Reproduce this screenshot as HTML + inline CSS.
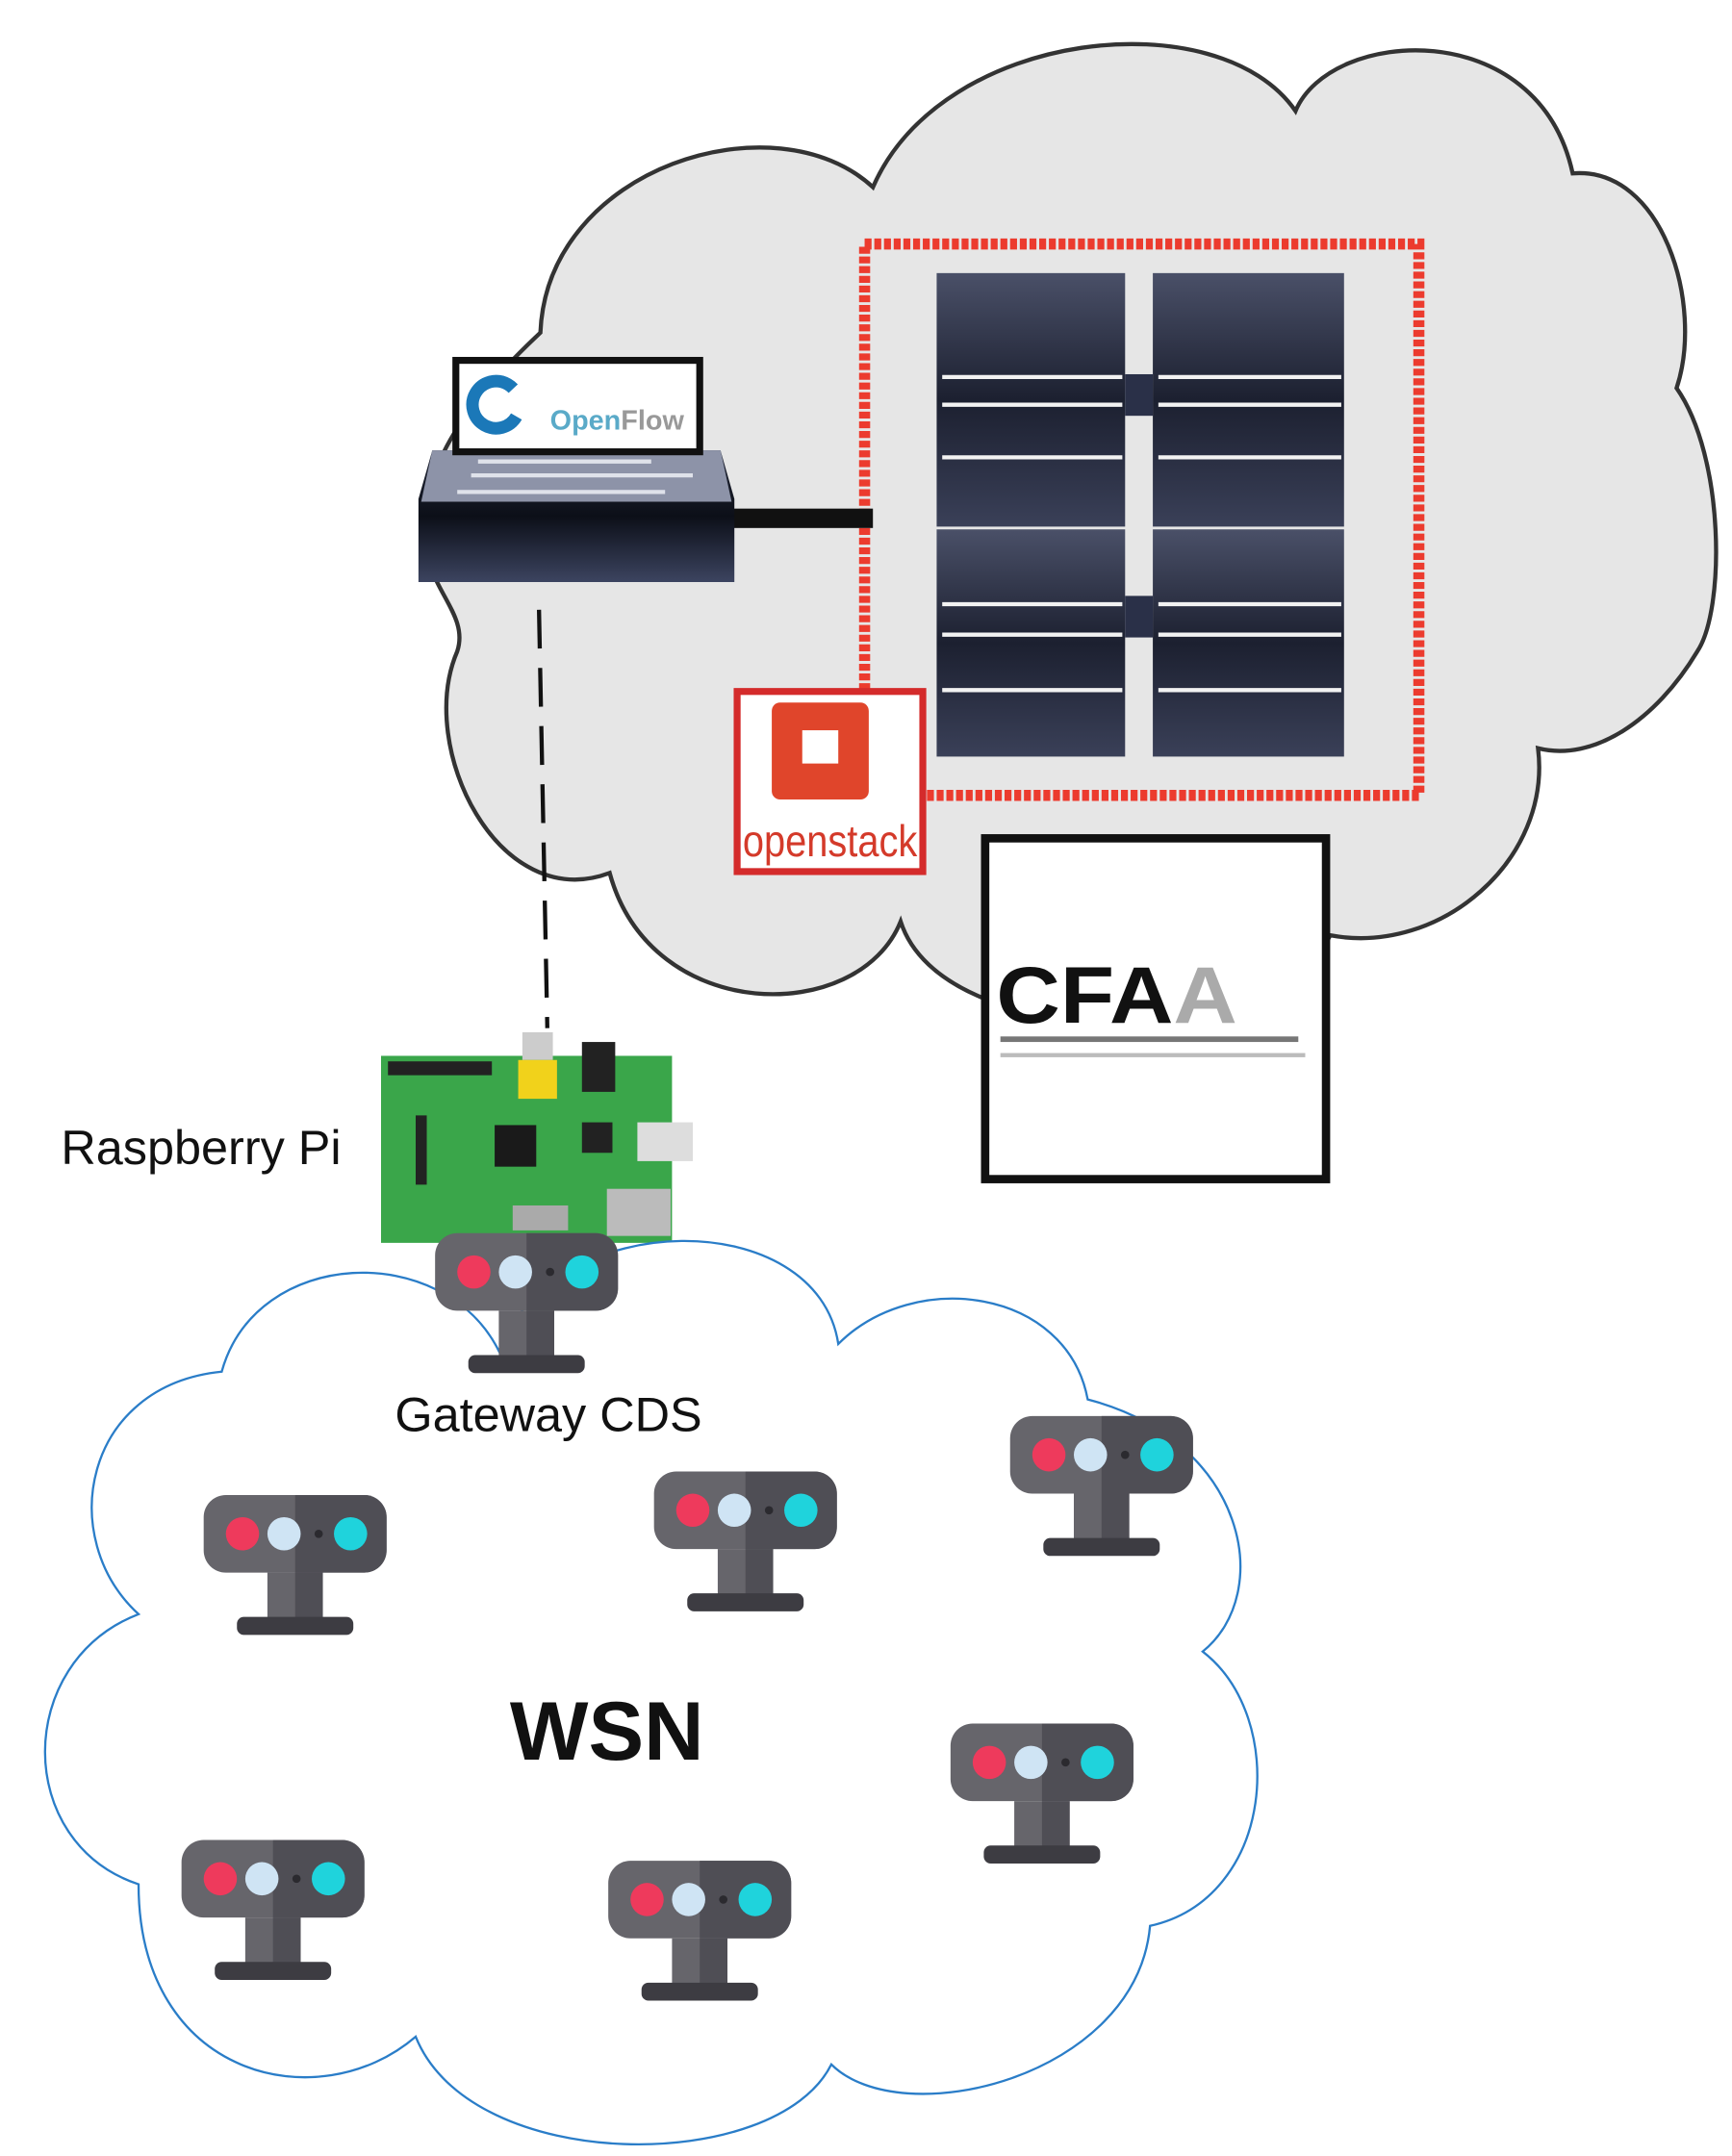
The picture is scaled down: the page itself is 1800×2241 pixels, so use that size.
<!DOCTYPE html>
<html><head><meta charset="utf-8"><style>
html,body{margin:0;padding:0;background:#fff}
svg{display:block}
</style></head><body>
<svg width="1800" height="2241" viewBox="0 0 1250 1556" xmlns="http://www.w3.org/2000/svg" font-family="Liberation Sans, DejaVu Sans, sans-serif">
<defs>
<linearGradient id="srv" x1="0" y1="0" x2="0" y2="1">
<stop offset="0" stop-color="#4a5068"/><stop offset="0.5" stop-color="#1c2030"/><stop offset="1" stop-color="#3a4058"/>
</linearGradient>
<linearGradient id="sw" x1="0" y1="0" x2="0" y2="1">
<stop offset="0" stop-color="#262b3c"/><stop offset="0.5" stop-color="#0c0f18"/><stop offset="1" stop-color="#3c4460"/>
</linearGradient>
<g id="sensor">
<rect x="-66" y="-28" width="132" height="56" rx="16" fill="#66656b"/>
<path d="M0 -28 H50 A16 16 0 0 1 66 -12 V12 A16 16 0 0 1 50 28 H0 Z" fill="#4f4e55"/>
<rect x="-20" y="28" width="40" height="34" fill="#66656b"/>
<rect x="0" y="28" width="20" height="34" fill="#4f4e55"/>
<rect x="-42" y="60" width="84" height="13" rx="5" fill="#3d3c42"/>
<circle cx="-38" cy="0" r="12" fill="#ee3a5c"/>
<circle cx="-8" cy="0" r="12" fill="#cfe4f4"/>
<circle cx="17" cy="0" r="3" fill="#2b2a2f"/>
<circle cx="40" cy="0" r="12" fill="#1fd3dc"/>
</g>
</defs>

<path d="M390 240 C395 120 560 70 630 135 C680 20 880 0 935 80 C960 20 1110 10 1135 125 C1200 120 1230 220 1210 280 C1245 330 1245 440 1225 470 C1195 520 1150 550 1110 540 C1120 620 1040 690 960 675 C920 760 680 760 650 665 C620 740 470 740 440 630 C360 660 300 540 330 470 C340 440 300 420 310 380 C300 320 380 250 390 240 Z" fill="#e6e6e6" stroke="#333" stroke-width="3"/>

<rect x="624" y="176" width="400" height="398" fill="none" stroke="#ec3b2e" stroke-width="8" stroke-dasharray="5 2"/>

<g>
<rect x="676" y="197" width="136" height="183" fill="url(#srv)"/>
<rect x="832" y="197" width="138" height="183" fill="url(#srv)"/>
<rect x="676" y="382" width="136" height="164" fill="url(#srv)"/>
<rect x="832" y="382" width="138" height="164" fill="url(#srv)"/>
<rect x="812" y="270" width="20" height="30" fill="#2a3048"/>
<rect x="812" y="430" width="20" height="30" fill="#2a3048"/>
<g stroke="#f2f2f2" stroke-width="3">
<line x1="680" y1="272" x2="810" y2="272"/><line x1="836" y1="272" x2="968" y2="272"/>
<line x1="680" y1="292" x2="810" y2="292"/><line x1="836" y1="292" x2="968" y2="292"/>
<line x1="680" y1="330" x2="810" y2="330"/><line x1="836" y1="330" x2="968" y2="330"/>
<line x1="680" y1="436" x2="810" y2="436"/><line x1="836" y1="436" x2="968" y2="436"/>
<line x1="680" y1="458" x2="810" y2="458"/><line x1="836" y1="458" x2="968" y2="458"/>
<line x1="680" y1="498" x2="810" y2="498"/><line x1="836" y1="498" x2="968" y2="498"/>
</g>
</g>

<rect x="528" y="367" width="102" height="14" fill="#111"/>

<path d="M312 325 H520 L530 360 V420 H302 V360 Z" fill="url(#sw)"/>
<path d="M312 325 H520 L528 362 H304 Z" fill="#8d93a8"/>
<g stroke="#dfe2ea" stroke-width="3"><line x1="340" y1="343" x2="500" y2="343"/><line x1="330" y1="355" x2="480" y2="355"/><line x1="345" y1="333" x2="470" y2="333"/></g>
<rect x="329" y="260" width="176" height="66" fill="#fff" stroke="#111" stroke-width="5"/>
<circle cx="358" cy="292" r="17" fill="none" stroke="#1b78b8" stroke-width="9" stroke-dasharray="85 22" transform="rotate(30 358 292)"/>
<text x="397" y="310" font-size="20" font-weight="bold" fill="#5aaac8">Open<tspan fill="#999">Flow</tspan></text>

<rect x="532" y="499" width="134" height="130" fill="#fff" stroke="#d42b2b" stroke-width="5"/>
<rect x="557" y="507" width="70" height="70" rx="6" fill="#e0452b"/>
<rect x="579" y="527" width="26" height="24" fill="#fff"/>
<text x="536" y="618" font-size="32" fill="#d43a2a" textLength="126" lengthAdjust="spacingAndGlyphs">openstack</text>

<rect x="711" y="605" width="246" height="246" fill="#fff" stroke="#111" stroke-width="6"/>
<text x="719" y="738" font-size="58" font-weight="bold" fill="#111" textLength="174" lengthAdjust="spacingAndGlyphs">CFA<tspan fill="#aaa">A</tspan></text>
<rect x="722" y="748" width="215" height="4" fill="#777"/>
<rect x="722" y="760" width="220" height="3" fill="#bbb"/>

<line x1="389" y1="440" x2="395" y2="742" stroke="#111" stroke-width="3" stroke-dasharray="28 14"/>

<rect x="275" y="762" width="210" height="135" fill="#3aa64a"/>
<rect x="280" y="766" width="75" height="10" fill="#222"/>
<rect x="377" y="745" width="22" height="20" fill="#ccc"/>
<rect x="374" y="765" width="28" height="28" fill="#f1d21b"/>
<rect x="420" y="752" width="24" height="36" fill="#222"/>
<rect x="357" y="812" width="30" height="30" fill="#1a1a1a"/>
<rect x="420" y="810" width="22" height="22" fill="#222"/>
<rect x="460" y="810" width="40" height="28" fill="#ddd"/>
<rect x="438" y="858" width="46" height="34" fill="#bbb"/>
<rect x="300" y="805" width="8" height="50" fill="#222"/>
<rect x="370" y="870" width="40" height="18" fill="#aaa"/>

<path d="M160 990 C185 900 320 895 360 975 C400 870 590 870 605 970 C660 915 770 930 785 1010 C900 1040 920 1150 868 1192 C930 1240 920 1370 830 1390 C820 1500 650 1540 600 1490 C560 1570 340 1570 300 1470 C230 1530 100 1500 100 1360 C10 1330 10 1200 100 1165 C40 1110 60 1000 160 990 Z" fill="#fff" stroke="#2a7dc8" stroke-width="1.6"/>

<use href="#sensor" x="380" y="918"/>
<use href="#sensor" x="213" y="1107"/>
<use href="#sensor" x="538" y="1090"/>
<use href="#sensor" x="795" y="1050"/>
<use href="#sensor" x="752" y="1272"/>
<use href="#sensor" x="197" y="1356"/>
<use href="#sensor" x="505" y="1371"/>

<text x="44" y="840" font-size="35" fill="#111">Raspberry Pi</text>
<text x="285" y="1033" font-size="35" fill="#111">Gateway CDS</text>
<text x="368" y="1270" font-size="60" font-weight="bold" fill="#111">WSN</text>
</svg>
</body></html>
